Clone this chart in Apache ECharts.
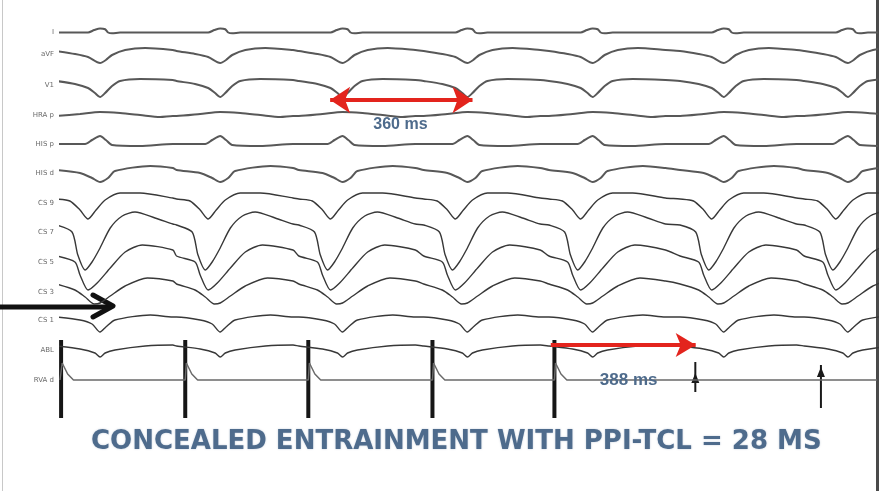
<!DOCTYPE html>
<html>
<head>
<meta charset="utf-8">
<script src="https://cdn.jsdelivr.net/npm/echarts@6/dist/echarts.min.js"></script>
<style>
  html, body { margin: 0; padding: 0; background: #fff; }
  #chart { width: 884px; height: 491px; }
</style>
</head>
<body>
<div id="chart"></div>
<script>
// channel labels, top to bottom (small and blurry in the source)
const channelNames = ['I', 'aVF', 'V1', 'HRA p', 'HIS p', 'HIS d', 'CS 9', 'CS 7', 'CS 5', 'CS 3', 'CS 1', 'ABL', 'RVA d'];

// timing (ms)
const beatTimes = [110, 440, 776, 1119, 1463, 1823, 2164];   // QRS of each beat
const stimTimes = [3, 344, 682, 1023, 1358];                 // pacing spikes
const localTimes = [1745, 2090];                             // marks after pacing stops

// one beat per channel: [ms from QRS, deflection]
const tplI    = [[-120, 0], [-33, 0], [-16, 3], [0, 5], [14, 4], [22, 0], [33, -1], [55, 0], [200, 0]];
const tplAvf  = [[-120, 3], [-69, 0], [-33, -3], [0, -9], [16, -6], [33, -1], [69, 4], [124, 6], [200, 4]];
const tplV1   = [[-120, 4], [-69, 1], [-33, -3], [-14, -8], [0, -12], [14, -8], [33, -1], [55, 4], [110, 6], [200, 5]];
const tplHra  = [[-120, -1], [-55, 1], [0, 3], [55, 2], [110, 0], [165, -2], [200, -1]];
const tplHisP = [[-120, 0], [-41, 0], [-22, 4], [0, 8], [16, 4], [33, -1], [110, -2], [200, 0]];
const tplHisD = [[-120, 3], [-55, 0], [-22, -5], [0, -9], [22, -5], [41, 2], [138, 7], [200, 5]];
const tplCs9  = [[-120, 4], [-83, 2], [-55, -7], [-33, -16], [-11, -7], [14, 3], [55, 10], [110, 10], [200, 5]];
const tplCs7  = [[-120, 7], [-77, 0], [-61, -23], [-41, -38], [-22, -30], [0, -16], [28, 4], [61, 16], [96, 20], [151, 14], [200, 8]];
const tplCs5  = [[-120, 6], [-69, 0], [-55, -13], [-33, -28], [-8, -21], [28, -6], [69, 10], [116, 17], [200, 12]];
const tplCs3  = [[-120, 8], [-69, 2], [-41, -5], [-16, -12], [0, -11], [28, -4], [69, 6], [130, 14], [200, 11]];
const tplCs1  = [[-120, 3], [-55, 0], [-22, -4], [0, -12], [16, -7], [41, 0], [138, 5], [200, 3]];
const tplAbl  = [[-120, 4], [-55, 1], [-14, -3], [0, -7], [14, -3], [41, 0], [124, 4], [200, 5]];

// stim channel: artifact after each spike, spike extent, local marks [top, bottom]
const stimDecay = [[0, 0], [3, 17], [18, 6], [34, 0]];
const spikeRange = [40, -38];
const localRange = [[18, -12], [15, -28]];

const templates = [tplI, tplAvf, tplV1, tplHra, tplHisP, tplHisD, tplCs9, tplCs7, tplCs5, tplCs3, tplCs1, tplAbl];

// layout
const baselines = [25, 54, 85, 115, 144, 173, 203, 232, 262, 292, 320, 350, 380];
const X_MAX = 2244;
const TEXT_BLUE = '#4e6b8c';

function trace(tpl, times) {
    const out = [];
    times.forEach(t => tpl.forEach(p => out.push([t + p[0], p[1]])));
    return out;
}

const grids = [], xAxes = [], yAxes = [], series = [];
baselines.forEach((b, i) => {
    grids.push({ left: 60, right: 7, top: b - 40, height: 80 });
    xAxes.push({ gridIndex: i, type: 'value', min: 0, max: X_MAX, show: false });
    yAxes.push({
        gridIndex: i, type: 'value', min: -40, max: 40,
        name: channelNames[i], nameLocation: 'middle', nameRotate: 0, nameGap: 6,
        nameTextStyle: { fontSize: 7, color: '#6a6a6a', align: 'right', fontFamily: 'DejaVu Sans' },
        axisLine: { show: false }, axisTick: { show: false }, axisLabel: { show: false }, splitLine: { show: false }
    });
});

templates.forEach((tpl, i) => {
    series.push({
        type: 'line', xAxisIndex: i, yAxisIndex: i,
        data: trace(tpl, beatTimes),
        symbol: 'none', smooth: 0.25, silent: true,
        lineStyle: { color: i < 6 ? '#585858' : '#383838', width: i < 6 ? 2 : 1.4 }
    });
});

// red double arrow (tachycardia cycle)
series[2].markLine = {
    silent: true, symbol: ['arrow', 'arrow'], symbolSize: [20, 20],
    label: { show: false },
    lineStyle: { color: '#e3241d', width: 4, type: 'solid' },
    data: [[{ coord: [742, -15] }, { coord: [1133, -15] }]]
};
series[3].markPoint = {
    silent: true, symbol: 'rect', symbolSize: 1, itemStyle: { color: 'rgba(0,0,0,0)' },
    label: { show: true, position: 'inside', formatter: '360 ms', fontSize: 16, fontWeight: 'bold', color: TEXT_BLUE, fontFamily: 'Liberation Sans' },
    data: [{ coord: [935, -10] }]
};
// red arrow after last pacing spike
series[11].markLine = {
    silent: true, symbolSize: [18, 20],
    label: { show: false },
    lineStyle: { color: '#e3241d', width: 4, type: 'solid' },
    data: [[{ coord: [1348, 5], symbol: 'none' }, { coord: [1746, 5], symbol: 'arrow' }]]
};

// stim channel baseline with artifacts
const stimLine = [[0, 0]];
stimTimes.forEach(t => stimDecay.forEach(p => stimLine.push([t + p[0], p[1]])));
stimLine.push([X_MAX, 0]);
series.push({
    type: 'line', xAxisIndex: 12, yAxisIndex: 12, data: stimLine,
    symbol: 'none', silent: true, lineStyle: { color: '#6a6a6a', width: 1.5 },
    markPoint: {
        silent: true, symbol: 'rect', symbolSize: 1, itemStyle: { color: 'rgba(0,0,0,0)' },
        label: { show: true, position: 'inside', formatter: '388 ms', fontSize: 17, fontWeight: 'bold', color: TEXT_BLUE, fontFamily: 'Liberation Sans' },
        data: [{ coord: [1562, 0] }]
    }
});
// pacing spikes
series.push({
    type: 'custom', xAxisIndex: 12, yAxisIndex: 12, silent: true,
    data: stimTimes.map(t => [t, spikeRange[0], spikeRange[1]]),
    renderItem: function (params, api) {
        const a = api.coord([api.value(0), api.value(1)]);
        const b = api.coord([api.value(0), api.value(2)]);
        return { type: 'line', shape: { x1: a[0], y1: a[1], x2: b[0], y2: b[1] }, style: { stroke: '#161616', lineWidth: 4 } };
    }
});
// small marks after pacing stopped
series.push({
    type: 'custom', xAxisIndex: 12, yAxisIndex: 12, silent: true,
    data: localTimes.map((t, k) => [t, localRange[k][0], localRange[k][1]]),
    renderItem: function (params, api) {
        const a = api.coord([api.value(0), api.value(1)]);
        const b = api.coord([api.value(0), api.value(2)]);
        const h = params.dataIndex === 0 ? api.coord([api.value(0), 0]) : [a[0], a[1] + 9];
        return {
            type: 'group', children: [
                { type: 'line', shape: { x1: a[0], y1: a[1], x2: b[0], y2: b[1] }, style: { stroke: '#1a1a1a', lineWidth: 2 } },
                { type: 'polygon', shape: { points: [[h[0], h[1] - 7], [h[0] + 4, h[1] + 3], [h[0] - 4, h[1] + 3]] }, style: { fill: '#1a1a1a' } }
            ]
        };
    }
});

const myChart = echarts.init(document.getElementById('chart'));
myChart.setOption({
    animation: false,
    backgroundColor: '#fff',
    title: {
        text: 'CONCEALED ENTRAINMENT WITH PPI-TCL = 28 MS',
        left: 86, top: 424,
        textStyle: {
            fontFamily: 'DejaVu Sans', fontWeight: 'bold', fontSize: 26, color: TEXT_BLUE,
            textShadowColor: 'rgba(70,100,140,0.35)', textShadowBlur: 2
        }
    },
    grid: grids,
    xAxis: xAxes,
    yAxis: yAxes,
    series: series,
    graphic: [
        // frame lines
        { type: 'line', shape: { x1: 2.5, y1: 0, x2: 2.5, y2: 491 }, style: { stroke: '#c8c8c8', lineWidth: 1 } },
        { type: 'line', shape: { x1: 877.5, y1: 0, x2: 877.5, y2: 491 }, style: { stroke: '#4a4a4a', lineWidth: 3 } },
        // black pointer arrow
        { type: 'polyline', shape: { points: [[0, 307], [110, 307]] }, style: { stroke: '#111', lineWidth: 5 } },
        { type: 'polyline', shape: { points: [[93, 295], [113, 306], [93, 317]] }, style: { stroke: '#111', lineWidth: 5, fill: null, lineJoin: 'round', lineCap: 'round' } }
    ]
});
window.addEventListener('resize', myChart.resize);
</script>
</body>
</html>
